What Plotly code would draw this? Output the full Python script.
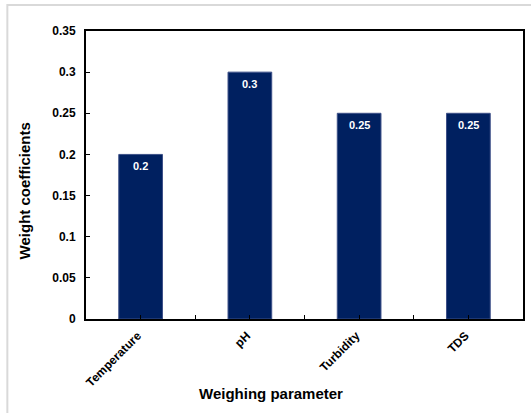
import plotly.graph_objects as go

# Weighting of each water-quality parameter
categories = ["Temperature", "pH", "Turbidity", "TDS"]
weights = [0.2, 0.3, 0.25, 0.25]
y_ticks = [0, 0.05, 0.1, 0.15, 0.2, 0.25, 0.3, 0.35]

FONT = "Liberation Sans, Arial, sans-serif"
BAR_COLOR = "#002060"

positions = list(range(len(categories)))

fig = go.Figure(
    go.Bar(
        x=positions,
        y=weights,
        width=0.4,
        marker=dict(color=BAR_COLOR, line=dict(color="#3d5088", width=1)),
        hoverinfo="skip",
    )
)

# Value labels just inside the top of each bar
for xi, w in zip(positions, weights):
    fig.add_annotation(
        x=xi, y=w, text=f"{w:g}", showarrow=False, yshift=-12,
        font=dict(family=FONT, size=11, color="white", weight="bold"),
    )

# Axis titles
fig.add_annotation(
    xref="paper", yref="paper", x=-0.1412, y=0.444, text="Weight coefficients",
    textangle=-90, showarrow=False, xanchor="center", yanchor="middle",
    font=dict(family=FONT, size=15, color="black", weight="bold"),
)
fig.add_annotation(
    xref="paper", yref="paper", x=0.4237, y=-0.2604, text="Weighing parameter",
    showarrow=False, xanchor="center", yanchor="middle",
    font=dict(family=FONT, size=15, color="black", weight="bold"),
)

# Light outer frame around the chart (open to the right and bottom)
fig.add_shape(
    type="rect", xref="paper", yref="paper",
    x0=-0.18, y0=-0.6, x1=1.2, y1=1.0903,
    line=dict(color="#d9d9d9", width=2), fillcolor="rgba(0,0,0,0)", layer="below",
)

fig.update_layout(
    width=531, height=413,
    margin=dict(l=86, r=6, t=31, b=94),
    paper_bgcolor="white", plot_bgcolor="white",
    showlegend=False,
    font=dict(family=FONT, color="black"),
)

fig.update_xaxes(
    range=[-0.5, len(categories) - 0.5],
    tickvals=positions, ticktext=categories, tickangle=-45,
    tickfont=dict(family=FONT, size=12, color="black", weight="bold"),
    ticks="inside", ticklen=4, tickcolor="black", tickwidth=1,
    ticklabelstandoff=3, ticklabelshift=-3,
    minor=dict(tickvals=[p + 0.5 for p in positions[:-1]], ticks="inside",
               ticklen=4, tickcolor="black", tickwidth=1),
    showline=True, linecolor="black", linewidth=2, mirror=True,
    showgrid=False, zeroline=False,
)
fig.update_yaxes(
    range=[0, 0.35], tickvals=y_ticks, ticktext=[f"{t:g}" for t in y_ticks],
    tickfont=dict(family=FONT, size=12, color="black", weight="bold"),
    ticks="inside", ticklen=4, tickcolor="black", tickwidth=1,
    ticklabelstandoff=6,
    showline=True, linecolor="black", linewidth=2, mirror=True,
    showgrid=False, zeroline=False,
)

fig.write_html("out.html")
